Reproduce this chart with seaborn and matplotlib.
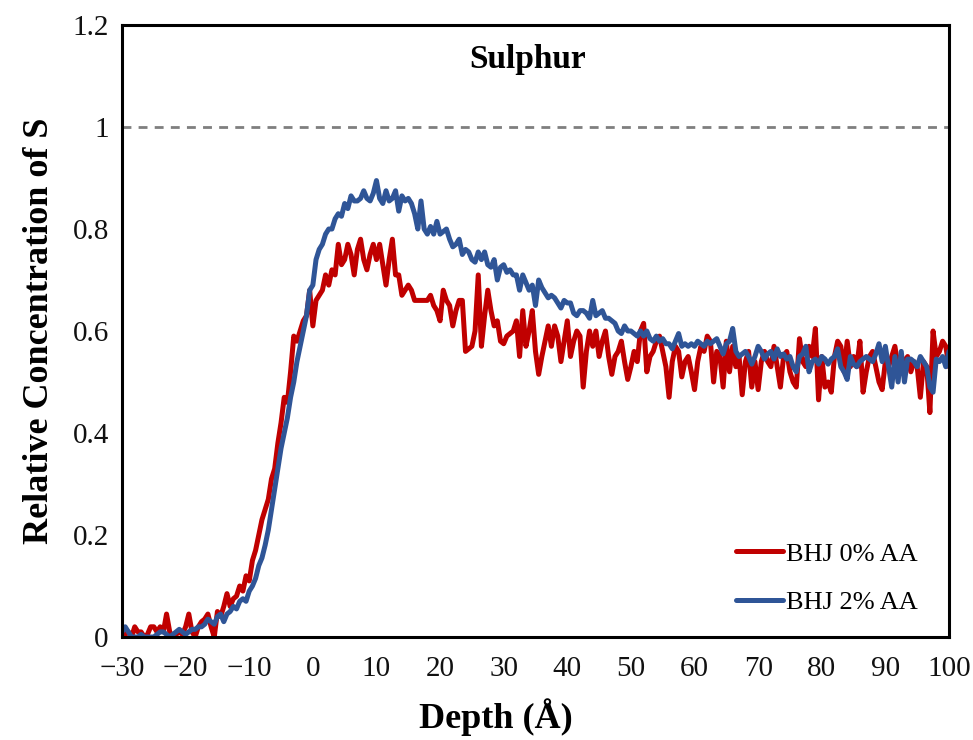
import numpy as np
import pandas as pd
import seaborn as sns
import matplotlib.pyplot as plt
from matplotlib.ticker import FuncFormatter

# depth grid (Å), 0.5 Å step from -30 to 100
depth = np.arange(-30, 100.5, 0.5)

# BHJ 0% AA
s_0aa = [
    0.00, 0.005, 0.01, 0.00, 0.02, 0.01, 0.01, 0.00, 0.005, 0.02,
    0.02, 0.01, 0.02, 0.01, 0.045, 0.01, 0.00, 0.005, 0.01, 0.005,
    0.02, 0.045, 0.01, 0.00, 0.02, 0.03, 0.035, 0.045, 0.02, 0.00,
    0.05, 0.04, 0.06, 0.085, 0.06, 0.075, 0.08, 0.10, 0.09, 0.12,
    0.11, 0.15, 0.17, 0.20, 0.23, 0.25, 0.27, 0.31, 0.33, 0.38,
    0.42, 0.47, 0.46, 0.52, 0.59, 0.58, 0.60, 0.62, 0.63, 0.68,
    0.61, 0.66, 0.67, 0.68, 0.71, 0.69, 0.72, 0.71, 0.77, 0.73,
    0.74, 0.77, 0.75, 0.71, 0.76, 0.78, 0.74, 0.72, 0.75, 0.77,
    0.74, 0.77, 0.73, 0.69, 0.74, 0.78, 0.71, 0.71, 0.67, 0.68,
    0.69, 0.68, 0.66, 0.66, 0.66, 0.66, 0.66, 0.67, 0.65, 0.64,
    0.62, 0.68, 0.66, 0.65, 0.61, 0.64, 0.66, 0.66, 0.56, 0.565,
    0.57, 0.60, 0.71, 0.57, 0.63, 0.68, 0.64, 0.61, 0.62, 0.58,
    0.575, 0.59, 0.595, 0.60, 0.62, 0.55, 0.64, 0.57, 0.60, 0.64,
    0.56, 0.515, 0.55, 0.58, 0.61, 0.57, 0.61, 0.59, 0.54, 0.58,
    0.62, 0.55, 0.58, 0.60, 0.59, 0.49, 0.56, 0.60, 0.57, 0.60,
    0.55, 0.58, 0.60, 0.55, 0.515, 0.55, 0.56, 0.58, 0.54, 0.505,
    0.53, 0.56, 0.54, 0.60, 0.615, 0.52, 0.55, 0.56, 0.58, 0.59,
    0.56, 0.53, 0.47, 0.54, 0.57, 0.56, 0.51, 0.54, 0.55, 0.52,
    0.485, 0.54, 0.57, 0.56, 0.59, 0.58, 0.50, 0.56, 0.55, 0.49,
    0.58, 0.52, 0.57, 0.53, 0.55, 0.475, 0.54, 0.56, 0.49, 0.54,
    0.485, 0.54, 0.56, 0.54, 0.53, 0.57, 0.53, 0.49, 0.55, 0.56,
    0.52, 0.50, 0.49, 0.585, 0.54, 0.53, 0.57, 0.55, 0.605, 0.465,
    0.55, 0.49, 0.50, 0.48, 0.55, 0.58, 0.57, 0.52, 0.58, 0.53,
    0.55, 0.53, 0.58, 0.48, 0.52, 0.55, 0.56, 0.53, 0.50, 0.485,
    0.54, 0.53, 0.55, 0.57, 0.53, 0.55, 0.54, 0.55, 0.52, 0.54,
    0.53, 0.47, 0.54, 0.53, 0.44, 0.60, 0.55, 0.56, 0.58, 0.57,
    0.53,
]

# BHJ 2% AA
s_2aa = [
    0.01, 0.02, 0.01, 0.00, 0.00, 0.00, 0.005, 0.00, 0.00, 0.00,
    0.00, 0.005, 0.01, 0.01, 0.005, 0.00, 0.005, 0.01, 0.015, 0.01,
    0.005, 0.01, 0.015, 0.015, 0.02, 0.02, 0.025, 0.035, 0.03, 0.025,
    0.04, 0.045, 0.03, 0.045, 0.05, 0.06, 0.055, 0.07, 0.075, 0.07,
    0.09, 0.10, 0.115, 0.14, 0.155, 0.18, 0.21, 0.25, 0.29, 0.33,
    0.37, 0.40, 0.43, 0.47, 0.50, 0.54, 0.57, 0.60, 0.63, 0.68,
    0.69, 0.74, 0.76, 0.77, 0.79, 0.80, 0.80, 0.82, 0.83, 0.825,
    0.85, 0.84, 0.865, 0.855, 0.855, 0.86, 0.875, 0.86, 0.855, 0.87,
    0.895, 0.86, 0.85, 0.875, 0.855, 0.86, 0.875, 0.835, 0.865, 0.855,
    0.86, 0.85, 0.83, 0.80, 0.855, 0.80, 0.79, 0.805, 0.79, 0.815,
    0.79, 0.795, 0.80, 0.78, 0.765, 0.77, 0.78, 0.75, 0.76, 0.755,
    0.74, 0.735, 0.755, 0.74, 0.755, 0.73, 0.725, 0.74, 0.70, 0.725,
    0.73, 0.715, 0.72, 0.71, 0.71, 0.68, 0.71, 0.695, 0.68, 0.69,
    0.65, 0.70, 0.685, 0.675, 0.665, 0.67, 0.665, 0.655, 0.645, 0.66,
    0.655, 0.655, 0.635, 0.63, 0.64, 0.64, 0.635, 0.625, 0.66, 0.63,
    0.635, 0.64, 0.625, 0.625, 0.62, 0.615, 0.60, 0.595, 0.61, 0.60,
    0.60, 0.595, 0.59, 0.60, 0.59, 0.60, 0.585, 0.58, 0.59, 0.58,
    0.585, 0.575, 0.575, 0.565, 0.58, 0.595, 0.57, 0.575, 0.57, 0.575,
    0.57, 0.58, 0.575, 0.57, 0.58, 0.575, 0.58, 0.585, 0.57, 0.555,
    0.575, 0.58, 0.605, 0.56, 0.55, 0.555, 0.56, 0.55, 0.535, 0.55,
    0.57, 0.56, 0.545, 0.555, 0.56, 0.545, 0.565, 0.55, 0.555, 0.545,
    0.55, 0.53, 0.52, 0.55, 0.555, 0.57, 0.52, 0.54, 0.545, 0.535,
    0.55, 0.545, 0.535, 0.545, 0.55, 0.565, 0.53, 0.52, 0.505, 0.55,
    0.535, 0.53, 0.54, 0.545, 0.55, 0.545, 0.54, 0.555, 0.575, 0.54,
    0.57, 0.53, 0.49, 0.55, 0.50, 0.56, 0.50, 0.545, 0.545, 0.54,
    0.53, 0.55, 0.54, 0.53, 0.49, 0.48, 0.545, 0.54, 0.55, 0.53,
    0.56,
]

labels = ["BHJ 0% AA", "BHJ 2% AA"]
colors = ["#C00000", "#2F5597"]

df = pd.concat([
    pd.DataFrame({"depth": depth, "conc": s_0aa, "sample": labels[0]}),
    pd.DataFrame({"depth": depth, "conc": s_2aa, "sample": labels[1]}),
])

sns.set_style("white")
plt.rcParams["font.family"] = ["Liberation Serif", "DejaVu Serif"]
plt.rcParams["text.color"] = "black"
plt.rcParams["axes.labelcolor"] = "black"

fig = plt.figure(figsize=(9.73, 7.40), dpi=100)
ax = fig.add_axes([0.1254, 0.1392, 0.8499, 0.8270])

sns.lineplot(data=df, x="depth", y="conc", hue="sample", palette=colors,
             linewidth=3.6, ax=ax)
ax.axhline(1.0, color="#7F7F7F", linestyle=(0, (3.2, 2.6)), linewidth=2, zorder=0)

ax.set_xlim(-30, 100)
ax.set_ylim(0, 1.2)
ax.set_xticks(range(-30, 101, 10))
ax.set_yticks(np.arange(0, 1.21, 0.2))
ax.yaxis.set_major_formatter(FuncFormatter(lambda v, p: f"{v:g}"))
ax.tick_params(direction="out", length=6, width=2, labelsize=21, color="black",
               labelcolor="#111111")
ax.tick_params(axis="x", pad=8)
for sp in ax.spines.values():
    sp.set_linewidth(2.2)
    sp.set_color("black")

ax.set_xlabel("Depth (Å)", fontsize=26, fontweight="bold")
ax.xaxis.set_label_coords(0.452, -0.1, transform=ax.transAxes)
ax.set_ylabel("Relative Concentration of S", fontsize=26, fontweight="bold", labelpad=12)
ax.text(0.491, 0.943, "Sulphur", transform=ax.transAxes, ha="center", va="center",
        fontsize=24, fontweight="bold")

ax.legend(loc="lower right", bbox_to_anchor=(0.975, 0.02), frameon=False,
          fontsize=19, handlelength=1.8, handletextpad=0.1, labelspacing=0.95,
          borderaxespad=0)

fig.savefig("out.png", dpi=100)
